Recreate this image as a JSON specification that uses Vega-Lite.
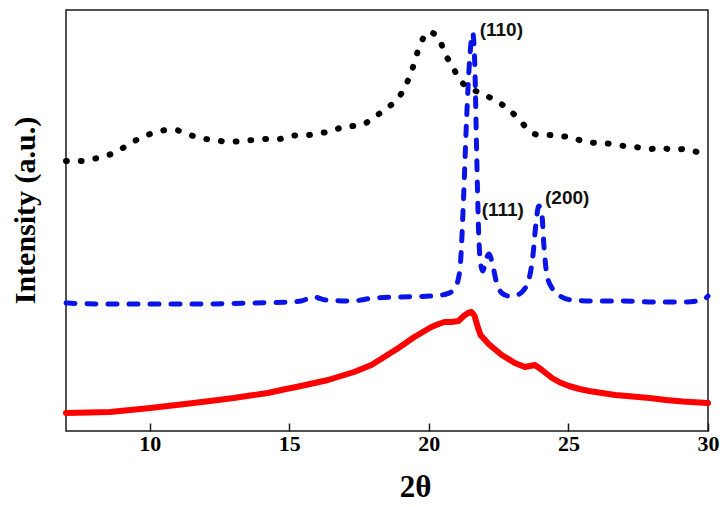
{
  "$schema": "https://vega.github.io/schema/vega-lite/v6.json",
  "autosize": {"type": "none"},
  "width": 642,
  "height": 421,
  "padding": {"left": 66, "top": 10, "right": 18, "bottom": 76},
  "background": "white",
  "config": {
    "view": {"stroke": "#1a1a1a", "strokeWidth": 1.5},
    "axis": {"grid": false, "domain": false}
  },
  "datasets": {
    "xrd": [
      {"t": 7.0, "i": 270, "s": "black"},
      {"t": 7.58, "i": 270, "s": "black"},
      {"t": 8.12, "i": 273, "s": "black"},
      {"t": 8.62, "i": 277, "s": "black"},
      {"t": 9.16, "i": 285, "s": "black"},
      {"t": 9.59, "i": 292, "s": "black"},
      {"t": 9.91, "i": 296, "s": "black"},
      {"t": 10.31, "i": 299, "s": "black"},
      {"t": 10.6, "i": 301, "s": "black"},
      {"t": 10.92, "i": 301, "s": "black"},
      {"t": 11.24, "i": 298, "s": "black"},
      {"t": 11.57, "i": 295, "s": "black"},
      {"t": 12.0, "i": 292, "s": "black"},
      {"t": 12.36, "i": 291, "s": "black"},
      {"t": 12.79, "i": 289, "s": "black"},
      {"t": 13.26, "i": 290, "s": "black"},
      {"t": 13.69, "i": 291, "s": "black"},
      {"t": 14.05, "i": 292, "s": "black"},
      {"t": 14.63, "i": 292, "s": "black"},
      {"t": 14.91, "i": 294, "s": "black"},
      {"t": 15.42, "i": 296, "s": "black"},
      {"t": 15.67, "i": 296, "s": "black"},
      {"t": 16.06, "i": 298, "s": "black"},
      {"t": 16.42, "i": 299, "s": "black"},
      {"t": 16.93, "i": 304, "s": "black"},
      {"t": 17.29, "i": 305, "s": "black"},
      {"t": 17.58, "i": 306, "s": "black"},
      {"t": 18.01, "i": 313, "s": "black"},
      {"t": 18.4, "i": 321, "s": "black"},
      {"t": 18.76, "i": 329, "s": "black"},
      {"t": 19.09, "i": 341, "s": "black"},
      {"t": 19.37, "i": 359, "s": "black"},
      {"t": 19.7, "i": 387, "s": "black"},
      {"t": 19.99, "i": 399, "s": "black"},
      {"t": 20.2, "i": 397, "s": "black"},
      {"t": 20.42, "i": 389, "s": "black"},
      {"t": 20.56, "i": 378, "s": "black"},
      {"t": 20.81, "i": 367, "s": "black"},
      {"t": 21.06, "i": 353, "s": "black"},
      {"t": 21.28, "i": 346, "s": "black"},
      {"t": 21.6, "i": 341, "s": "black"},
      {"t": 22.0, "i": 336, "s": "black"},
      {"t": 22.36, "i": 331, "s": "black"},
      {"t": 22.79, "i": 323, "s": "black"},
      {"t": 23.22, "i": 312, "s": "black"},
      {"t": 23.58, "i": 301, "s": "black"},
      {"t": 23.94, "i": 296, "s": "black"},
      {"t": 24.3, "i": 296, "s": "black"},
      {"t": 24.7, "i": 295, "s": "black"},
      {"t": 25.2, "i": 293, "s": "black"},
      {"t": 25.6, "i": 289, "s": "black"},
      {"t": 26.1, "i": 288, "s": "black"},
      {"t": 26.57, "i": 287, "s": "black"},
      {"t": 27.0, "i": 285, "s": "black"},
      {"t": 27.4, "i": 284, "s": "black"},
      {"t": 27.9, "i": 282, "s": "black"},
      {"t": 28.37, "i": 283, "s": "black"},
      {"t": 28.73, "i": 281, "s": "black"},
      {"t": 29.16, "i": 282, "s": "black"},
      {"t": 29.63, "i": 279, "s": "black"},
      {"t": 30.0, "i": 278, "s": "black"},

      {"t": 7.0, "i": 128, "s": "blue"},
      {"t": 8.22, "i": 127, "s": "blue"},
      {"t": 10.02, "i": 127, "s": "blue"},
      {"t": 11.82, "i": 127, "s": "blue"},
      {"t": 13.62, "i": 128, "s": "blue"},
      {"t": 15.06, "i": 129, "s": "blue"},
      {"t": 15.42, "i": 130, "s": "blue"},
      {"t": 15.88, "i": 134, "s": "blue"},
      {"t": 16.32, "i": 131, "s": "blue"},
      {"t": 17.22, "i": 130, "s": "blue"},
      {"t": 18.04, "i": 133, "s": "blue"},
      {"t": 19.01, "i": 134, "s": "blue"},
      {"t": 20.09, "i": 135, "s": "blue"},
      {"t": 20.63, "i": 137, "s": "blue"},
      {"t": 20.88, "i": 141, "s": "blue"},
      {"t": 21.03, "i": 149, "s": "blue"},
      {"t": 21.14, "i": 171, "s": "blue"},
      {"t": 21.24, "i": 231, "s": "blue"},
      {"t": 21.35, "i": 311, "s": "blue"},
      {"t": 21.46, "i": 371, "s": "blue"},
      {"t": 21.57, "i": 398, "s": "blue"},
      {"t": 21.64, "i": 371, "s": "blue"},
      {"t": 21.71, "i": 281, "s": "blue"},
      {"t": 21.78, "i": 201, "s": "blue"},
      {"t": 21.86, "i": 166, "s": "blue"},
      {"t": 21.93, "i": 160, "s": "blue"},
      {"t": 22.05, "i": 172, "s": "blue"},
      {"t": 22.16, "i": 177, "s": "blue"},
      {"t": 22.27, "i": 168, "s": "blue"},
      {"t": 22.43, "i": 148, "s": "blue"},
      {"t": 22.61, "i": 138, "s": "blue"},
      {"t": 22.86, "i": 135, "s": "blue"},
      {"t": 23.15, "i": 136, "s": "blue"},
      {"t": 23.4, "i": 141, "s": "blue"},
      {"t": 23.58, "i": 151, "s": "blue"},
      {"t": 23.73, "i": 176, "s": "blue"},
      {"t": 23.83, "i": 206, "s": "blue"},
      {"t": 23.94, "i": 225, "s": "blue"},
      {"t": 24.05, "i": 216, "s": "blue"},
      {"t": 24.12, "i": 186, "s": "blue"},
      {"t": 24.23, "i": 156, "s": "blue"},
      {"t": 24.41, "i": 143, "s": "blue"},
      {"t": 24.7, "i": 135, "s": "blue"},
      {"t": 25.13, "i": 131, "s": "blue"},
      {"t": 25.85, "i": 130, "s": "blue"},
      {"t": 26.93, "i": 130, "s": "blue"},
      {"t": 28.01, "i": 129, "s": "blue"},
      {"t": 29.09, "i": 129, "s": "blue"},
      {"t": 29.81, "i": 131, "s": "blue"},
      {"t": 30.0, "i": 135, "s": "blue"},

      {"t": 7.0, "i": 18, "s": "red"},
      {"t": 7.8, "i": 18.5, "s": "red"},
      {"t": 8.58, "i": 19, "s": "red"},
      {"t": 9.3, "i": 21, "s": "red"},
      {"t": 10.02, "i": 23, "s": "red"},
      {"t": 10.8, "i": 25.5, "s": "red"},
      {"t": 11.57, "i": 28, "s": "red"},
      {"t": 12.3, "i": 30.5, "s": "red"},
      {"t": 13.01, "i": 33, "s": "red"},
      {"t": 13.6, "i": 35.5, "s": "red"},
      {"t": 14.23, "i": 38, "s": "red"},
      {"t": 14.8, "i": 41.5, "s": "red"},
      {"t": 15.42, "i": 45, "s": "red"},
      {"t": 15.9, "i": 48, "s": "red"},
      {"t": 16.39, "i": 51, "s": "red"},
      {"t": 16.85, "i": 55, "s": "red"},
      {"t": 17.32, "i": 59, "s": "red"},
      {"t": 17.94, "i": 66, "s": "red"},
      {"t": 18.4, "i": 74, "s": "red"},
      {"t": 18.91, "i": 83, "s": "red"},
      {"t": 19.48, "i": 94, "s": "red"},
      {"t": 20.09, "i": 104, "s": "red"},
      {"t": 20.35, "i": 107, "s": "red"},
      {"t": 20.56, "i": 109, "s": "red"},
      {"t": 20.8, "i": 109, "s": "red"},
      {"t": 21.06, "i": 110, "s": "red"},
      {"t": 21.25, "i": 115, "s": "red"},
      {"t": 21.4, "i": 118, "s": "red"},
      {"t": 21.53, "i": 119, "s": "red"},
      {"t": 21.64, "i": 115, "s": "red"},
      {"t": 21.74, "i": 105, "s": "red"},
      {"t": 21.85, "i": 96, "s": "red"},
      {"t": 22.14, "i": 87, "s": "red"},
      {"t": 22.61, "i": 76, "s": "red"},
      {"t": 23.08, "i": 68, "s": "red"},
      {"t": 23.44, "i": 64, "s": "red"},
      {"t": 23.8, "i": 66, "s": "red"},
      {"t": 24.05, "i": 61, "s": "red"},
      {"t": 24.41, "i": 53, "s": "red"},
      {"t": 24.7, "i": 48.5, "s": "red"},
      {"t": 25.02, "i": 45, "s": "red"},
      {"t": 25.4, "i": 42, "s": "red"},
      {"t": 25.74, "i": 40, "s": "red"},
      {"t": 26.2, "i": 38, "s": "red"},
      {"t": 26.68, "i": 36, "s": "red"},
      {"t": 27.3, "i": 34.5, "s": "red"},
      {"t": 27.9, "i": 33, "s": "red"},
      {"t": 28.5, "i": 31, "s": "red"},
      {"t": 29.09, "i": 29.5, "s": "red"},
      {"t": 30.0, "i": 28, "s": "red"}
    ],
    "peaks": [
      {"label": "(110)", "t": 21.82, "i": 401},
      {"label": "(111)", "t": 21.89, "i": 221},
      {"label": "(200)", "t": 24.16, "i": 233}
    ]
  },
  "layer": [
    {
      "data": {"name": "xrd"},
      "transform": [{"filter": "datum.s === 'red'"}],
      "mark": {"type": "line", "color": "#ff0000", "strokeWidth": 6, "interpolate": "linear", "strokeCap": "round", "strokeJoin": "round"},
      "encoding": {
        "x": {
          "field": "t", "type": "quantitative",
          "scale": {"domain": [7, 30], "nice": false, "zero": false},
          "axis": {
            "values": [10, 15, 20, 25, 30],
            "title": "2θ",
            "titleFont": "Liberation Serif", "titleFontWeight": "bold", "titleFontSize": 31, "titleColor": "#000",
            "titleX": 349, "titleY": 56, "titleBaseline": "middle", "titleAlign": "center",
            "labelFont": "Liberation Serif", "labelFontWeight": "bold", "labelFontSize": 22, "labelColor": "#000",
            "labelPadding": 10, "labelFlush": false,
            "ticks": true, "tickSize": -8, "tickColor": "#1a1a1a", "tickWidth": 1.5
          }
        },
        "y": {
          "field": "i", "type": "quantitative",
          "scale": {"domain": [0, 421], "nice": false, "zero": false},
          "axis": {
            "title": "Intensity (a.u.)",
            "labels": false, "ticks": false,
            "titleFont": "Liberation Serif", "titleFontWeight": "bold", "titleFontSize": 30, "titleColor": "#000",
            "titleX": -41, "titleY": 200, "titleBaseline": "middle", "titleAlign": "center", "titleAngle": -90
          }
        }
      }
    },
    {
      "data": {"name": "xrd"},
      "transform": [{"filter": "datum.s === 'blue'"}],
      "mark": {"type": "line", "color": "#0a14e6", "strokeWidth": 5, "interpolate": "monotone", "strokeDash": [9, 12], "strokeCap": "round"},
      "encoding": {
        "x": {"field": "t", "type": "quantitative"},
        "y": {"field": "i", "type": "quantitative"}
      }
    },
    {
      "data": {"name": "xrd"},
      "transform": [{"filter": "datum.s === 'black'"}],
      "mark": {"type": "line", "color": "#000000", "strokeWidth": 6, "interpolate": "monotone", "strokeDash": [0.8, 14], "strokeCap": "round"},
      "encoding": {
        "x": {"field": "t", "type": "quantitative"},
        "y": {"field": "i", "type": "quantitative"}
      }
    },
    {
      "data": {"name": "peaks"},
      "mark": {"type": "text", "font": "Liberation Sans", "fontWeight": "bold", "fontSize": 19, "align": "left", "baseline": "middle", "color": "#111"},
      "encoding": {
        "x": {"field": "t", "type": "quantitative"},
        "y": {"field": "i", "type": "quantitative"},
        "text": {"field": "label", "type": "nominal"}
      }
    }
  ]
}
